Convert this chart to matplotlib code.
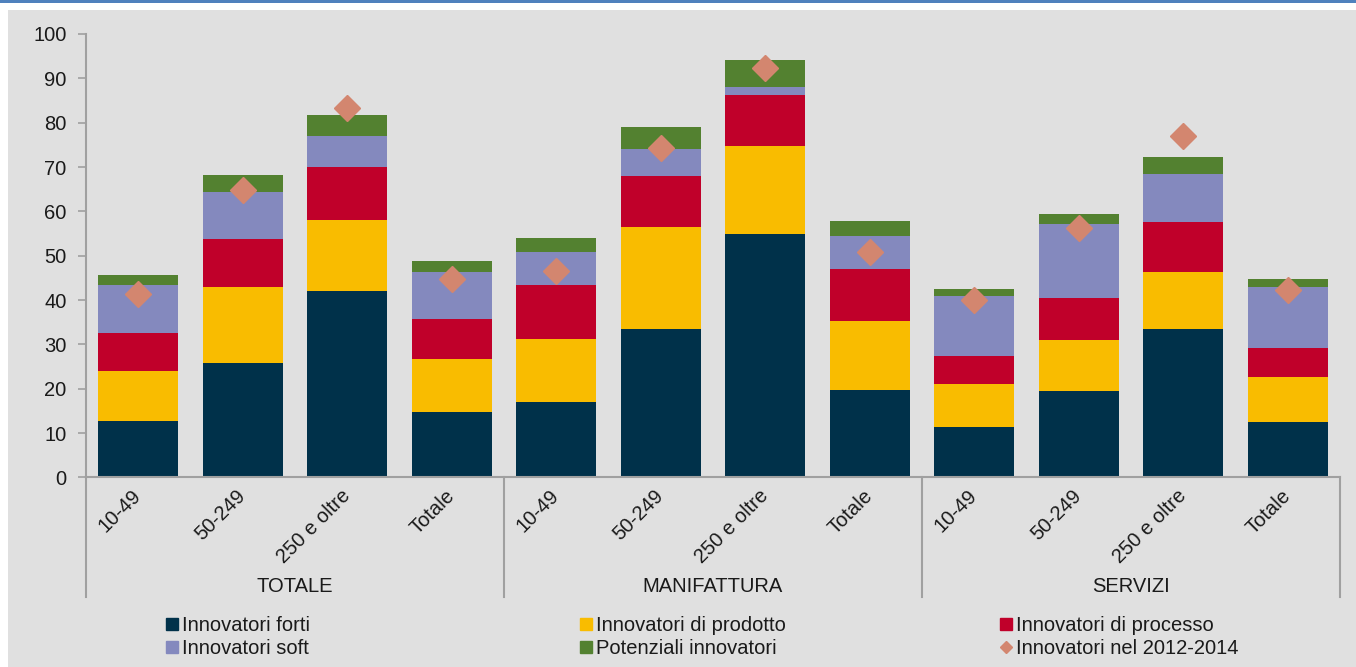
import matplotlib.pyplot as plt
from matplotlib.lines import Line2D
from matplotlib.patches import Rectangle
import matplotlib.transforms as mtransforms
import numpy as np

plt.rcParams['font.family'] = ['Liberation Sans', 'DejaVu Sans']

# dati (quote % di imprese)
gruppi = ['TOTALE', 'MANIFATTURA', 'SERVIZI']
classi = ['10-49', '50-249', '250 e oltre', 'Totale']

forti = [12.8, 25.9, 42.1, 14.7, 17.1, 33.5, 54.9, 19.8, 11.4, 19.4, 33.4, 12.5]
prodotto = [11.1, 17.1, 15.9, 12.0, 14.2, 22.9, 19.9, 15.5, 9.7, 11.7, 13.0, 10.2]
processo = [8.7, 10.8, 11.9, 9.0, 12.0, 11.6, 11.4, 11.7, 6.3, 9.4, 11.1, 6.5]
soft = [10.8, 10.6, 7.1, 10.6, 7.6, 6.1, 1.9, 7.4, 13.5, 16.7, 10.9, 13.8]
potenziali = [2.3, 3.9, 4.7, 2.4, 3.1, 5.0, 6.0, 3.4, 1.7, 2.1, 3.8, 1.7]
innov_2012_2014 = [41.4, 64.8, 83.2, 44.7, 46.6, 74.3, 92.4, 50.8, 39.9, 56.2, 77.0, 42.3]

serie = [
    ('Innovatori forti', forti, '#00314A'),
    ('Innovatori di prodotto', prodotto, '#F9BC00'),
    ('Innovatori di processo', processo, '#C0002A'),
    ('Innovatori soft', soft, '#8489BE'),
    ('Potenziali innovatori', potenziali, '#538130'),
]
col_diamante = '#D3866F'
sfondo = '#E0E0E0'
testo = '#1a1a1a'

fig = plt.figure(figsize=(13.56, 6.67), dpi=100)
fig.patch.set_facecolor('white')
fig.patches.append(Rectangle((8 / 1356, 0), 1, 657 / 667, transform=fig.transFigure,
                             facecolor=sfondo, edgecolor='none', zorder=-10))
fig.patches.append(Rectangle((0, 664 / 667), 1, 3 / 667, transform=fig.transFigure,
                             facecolor='#4F81BD', edgecolor='none', zorder=-10))

ax = fig.add_axes([86 / 1356, (667 - 477.4) / 667, (1340 - 86) / 1356, 443.4 / 667])
ax.set_facecolor('none')

x = np.arange(len(forti))
base = np.zeros(len(forti))
for nome, valori, colore in serie:
    ax.bar(x, valori, 0.765, bottom=base, color=colore, label=nome)
    base = base + np.array(valori)

ax.plot(x, innov_2012_2014, linestyle='none', marker='D', markersize=13,
        color=col_diamante, markeredgecolor=col_diamante, zorder=5)

ax.set_ylim(0, 100)
ax.set_xlim(-0.5, len(forti) - 0.5)
ax.set_yticks(range(0, 101, 10))
ax.tick_params(axis='y', direction='out', length=6, width=1.2, color='#A0A0A0',
               labelsize=14.5, labelcolor=testo, pad=8)

ax.set_xticks(x)
ax.set_xticklabels(classi * 3, rotation=45, ha='right', va='center',
                   rotation_mode='anchor', fontsize=14.5, color=testo)
ax.tick_params(axis='x', length=0, pad=11)

for lato in ['top', 'right']:
    ax.spines[lato].set_visible(False)
for lato in ['left', 'bottom']:
    ax.spines[lato].set_color('#A0A0A0')
    ax.spines[lato].set_linewidth(1.5)

# separatori dei gruppi e etichette
trans = mtransforms.blended_transform_factory(ax.transData, ax.transAxes)
for xs in [-0.5, 3.5, 7.5, 11.5]:
    ax.plot([xs, xs], [0, -0.27], transform=trans, color='#A0A0A0', lw=1.5,
            clip_on=False)
for i, g in enumerate(gruppi):
    ax.text(4 * i + 1.5, -0.245, g, transform=trans, ha='center', va='center',
            fontsize=14.5, color=testo)

# legenda su tre colonne a larghezza fissa
def quadrato(colore):
    return Line2D([], [], linestyle='none', marker='s', markersize=8,
                  color=colore, markeredgecolor=colore)

diamante = Line2D([], [], linestyle='none', marker='D', markersize=6,
                  color=col_diamante, markeredgecolor=col_diamante)

colonne = [
    ([quadrato(serie[0][2]), quadrato(serie[3][2])], [serie[0][0], serie[3][0]], 166),
    ([quadrato(serie[1][2]), quadrato(serie[4][2])], [serie[1][0], serie[4][0]], 580),
    ([quadrato(serie[2][2]), diamante], [serie[2][0], 'Innovatori nel 2012-2014'], 1000),
]
for handles, labels, xpos in colonne:
    fig.legend(handles, labels, loc='upper left',
               bbox_to_anchor=(xpos / 1356, (667 - 616) / 667),
               frameon=False, fontsize=14.5, handlelength=0.6, handletextpad=0.2,
               labelspacing=0.2, borderpad=0, borderaxespad=0,
               labelcolor=testo)

fig.savefig('out.png', dpi=100, facecolor=fig.get_facecolor())
